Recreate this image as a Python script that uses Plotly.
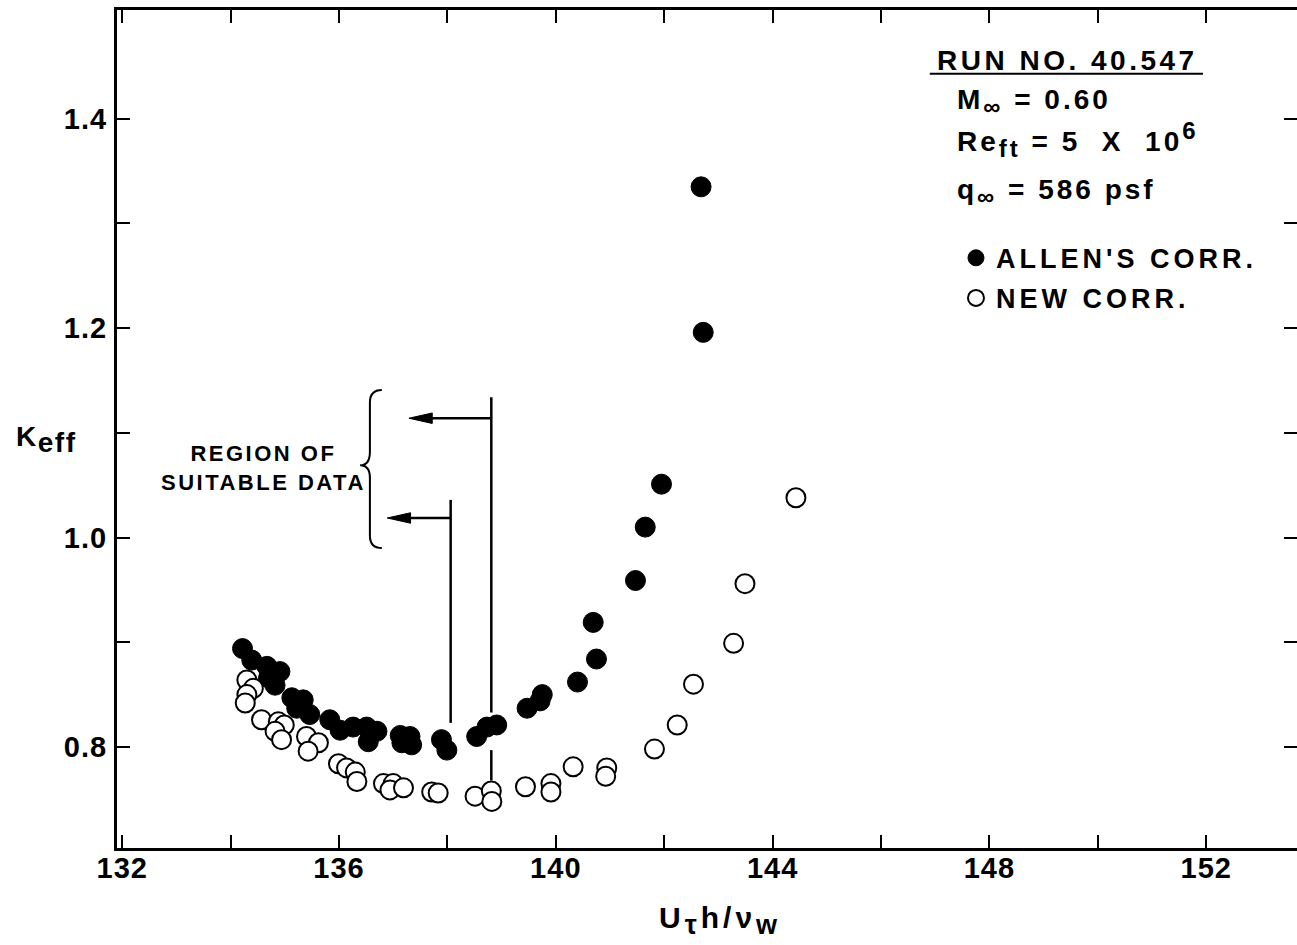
import plotly.graph_objects as go

# ---------------- data ----------------
allen_x = [134.22, 134.39, 134.67, 134.91, 134.82, 134.70, 135.13, 135.34, 135.46, 135.22,
           135.83, 136.02, 136.26, 136.51, 136.70, 136.54, 137.13, 137.31, 137.16, 137.34,
           137.89, 137.99, 138.54, 138.73, 138.91, 139.47, 139.71, 139.75, 140.40, 140.75,
           140.69, 141.47, 141.65, 141.95, 142.72, 142.68]
allen_y = [0.894, 0.883, 0.877, 0.872, 0.859, 0.866, 0.847, 0.845, 0.831, 0.837,
           0.826, 0.816, 0.819, 0.819, 0.815, 0.805, 0.811, 0.810, 0.804, 0.802,
           0.807, 0.797, 0.810, 0.819, 0.821, 0.837, 0.844, 0.850, 0.862, 0.884,
           0.919, 0.959, 1.010, 1.051, 1.196, 1.335]

new_x = [134.30, 134.42, 134.30, 134.27, 134.57, 134.88, 134.99, 134.82, 134.94, 135.40,
         135.62, 135.43, 135.99, 136.14, 136.30, 136.33, 136.82, 137.00, 136.94, 137.19,
         137.71, 137.83, 138.51, 138.81, 138.82, 139.44, 139.91, 139.91, 140.32, 140.94,
         140.92, 141.82, 142.24, 142.54, 143.28, 143.49, 144.43]
new_y = [0.864, 0.856, 0.850, 0.842, 0.826, 0.824, 0.821, 0.815, 0.807, 0.810,
         0.804, 0.796, 0.784, 0.780, 0.776, 0.767, 0.765, 0.765, 0.759, 0.761,
         0.757, 0.756, 0.753, 0.758, 0.748, 0.762, 0.765, 0.757, 0.781, 0.780,
         0.772, 0.798, 0.821, 0.860, 0.899, 0.956, 1.038]

x_tickvals = [132, 134, 136, 138, 140, 142, 144, 146, 148, 150, 152]
x_ticktext = ["132", "", "136", "", "140", "", "144", "", "148", "", "152"]
y_tickvals = [0.8, 0.9, 1.0, 1.1, 1.2, 1.3, 1.4]
y_ticktext = ["0.8", "", "1.0", "", "1.2", "", "1.4"]

FONT = "Liberation Sans"
SP = "<span style='letter-spacing:{}px'>{}</span>"

fig = go.Figure()
fig.add_trace(go.Scatter(
    x=allen_x, y=allen_y, mode="markers", name=SP.format(4, "ALLEN'S CORR."),
    legendgroup="a",
    marker=dict(symbol="circle", size=20, color="black", line=dict(color="black", width=1)),
))
fig.add_trace(go.Scatter(
    x=new_x, y=new_y, mode="markers", name=SP.format(4, "NEW CORR."),
    legendgroup="b",
    marker=dict(symbol="circle", size=19, color="white", line=dict(color="black", width=2)),
))

axis_common = dict(
    showgrid=False, zeroline=False, showline=True, linecolor="black", linewidth=3,
    ticks="inside", tickcolor="black", tickwidth=2, ticklen=13, mirror="ticks",
    automargin=False,
    tickfont=dict(family=FONT, size=29, color="black", weight="bold"),
)
fig.update_xaxes(range=[131.904, 153.675], tickmode="array", tickvals=x_tickvals,
                 ticktext=[SP.format(1, t) for t in x_ticktext], ticklabelstandoff=-8,
                 **axis_common)
fig.update_yaxes(range=[0.7035, 1.5039], tickmode="array", tickvals=y_tickvals,
                 ticktext=[SP.format(1, t) for t in y_ticktext], ticklabelstandoff=1,
                 **axis_common)

# ---------------- region-of-suitable-data markup ----------------
line_style = dict(color="black", width=2.5)
fig.add_shape(type="line", x0=138.06, x1=138.06, y0=0.823, y1=1.036, line=line_style)
fig.add_shape(type="line", x0=138.81, x1=138.81, y0=0.833, y1=1.134, line=line_style)
fig.add_shape(type="line", x0=138.81, x1=138.81, y0=0.768, y1=0.797, line=line_style)
fig.add_shape(type="line", x0=137.6, x1=138.81, y0=1.114, y1=1.114, line=line_style)
fig.add_shape(type="line", x0=137.2, x1=138.06, y0=1.0187, y1=1.0187, line=line_style)
fig.add_shape(type="path", path="M137.29,1.114 L137.72,1.119 L137.72,1.1090 Z",
              fillcolor="black", line=dict(color="black", width=1))
fig.add_shape(type="path", path="M136.89,1.0187 L137.32,1.0237 L137.32,1.0137 Z",
              fillcolor="black", line=dict(color="black", width=1))
# curly brace
fig.add_shape(type="path",
              path=("M136.79,1.141 Q136.57,1.141 136.57,1.129 L136.57,1.082 "
                    "Q136.57,1.069 136.39,1.069 Q136.57,1.069 136.57,1.057 "
                    "L136.57,1.002 Q136.57,0.990 136.79,0.990"),
              line=dict(color="black", width=2))

fig.add_annotation(x=134.6, y=1.0665, xref="x", yref="y", showarrow=False,
                   text="<span style='letter-spacing:2.5px'>REGION OF<br>SUITABLE DATA</span>",
                   align="center", font=dict(family=FONT, size=22, color="black", weight="bold"))

# ---------------- info block ----------------
info_font = dict(family=FONT, size=28, color="black", weight="bold")
SUB = "<sub><span style='font-size:24px'>{}</span></sub>"
fig.add_annotation(x=147.0, y=1.456, xref="x", yref="y", xanchor="left", yanchor="middle",
                   showarrow=False, text=SP.format(3.5, "RUN NO. 40.547"), font=info_font)
fig.add_shape(type="line", x0=146.90, x1=151.94, y0=1.443, y1=1.443,
              line=dict(color="black", width=2))
fig.add_annotation(x=147.37, y=1.416, xref="x", yref="y", xanchor="left", yanchor="middle",
                   showarrow=False,
                   text=SP.format(3, "M" + SUB.format("∞") + " = 0.60"), font=info_font)
fig.add_annotation(x=147.37, y=1.380, xref="x", yref="y", xanchor="left", yanchor="middle",
                   showarrow=False,
                   text=SP.format(3, "Re" + SUB.format("ft") + " = 5  X  10"
                                  "<sup><span style='font-size:24px'>6</span></sup>"),
                   font=info_font)
fig.add_annotation(x=147.37, y=1.330, xref="x", yref="y", xanchor="left", yanchor="middle",
                   showarrow=False,
                   text=SP.format(3, "q" + SUB.format("∞") + " = 586 psf"), font=info_font)

# axis titles
fig.add_annotation(x=-0.0873, y=0.487, xref="paper", yref="paper", xanchor="left",
                   yanchor="middle", showarrow=False,
                   text=SP.format(1.5, "K<sub><span style='font-size:28px'>eff</span></sub>"),
                   font=dict(family=FONT, size=28, color="black", weight="bold"))
fig.add_annotation(x=0.511, y=-0.087, xref="paper", yref="paper", xanchor="center",
                   yanchor="middle", showarrow=False,
                   text=SP.format(4, "U<sub><span style='font-size:27px'>τ</span></sub>h/ν"
                                  "<sub><span style='font-size:27px'>w</span></sub>"),
                   font=dict(family=FONT, size=30, color="black", weight="bold"))

fig.update_layout(
    width=1297, height=945,
    margin=dict(l=117, r=0, t=10, b=97, autoexpand=False),
    paper_bgcolor="white", plot_bgcolor="white",
    showlegend=True,
    legend=dict(x=0.711, y=0.733, xanchor="left", yanchor="top",
                bgcolor="rgba(0,0,0,0)", borderwidth=0, tracegroupgap=2,
                font=dict(family=FONT, size=27, color="black", weight="bold")),
)

fig.write_html("out.html")
